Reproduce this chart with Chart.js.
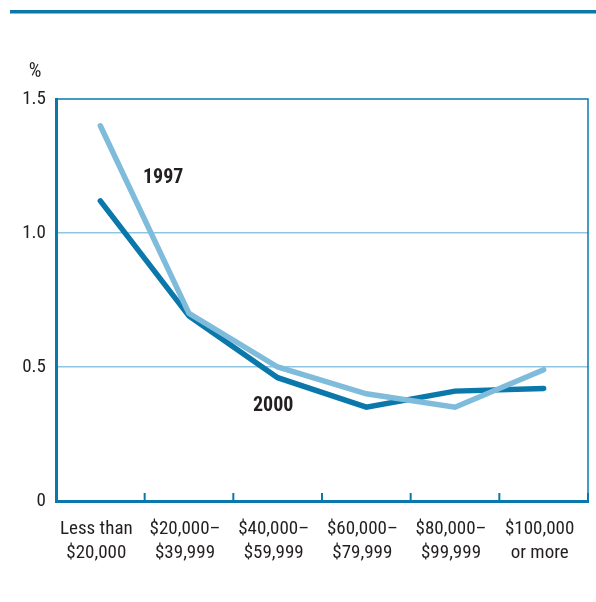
<!DOCTYPE html>
<html><head><meta charset="utf-8">
<script src="https://cdn.jsdelivr.net/npm/chart.js@4"></script>
<style>html,body{margin:0;padding:0;background:#fff}#wrap{width:596px;height:602px;position:relative}</style>
</head><body><div id="wrap"><canvas id="c"></canvas></div>
<script>
const categories = [["Less than","$20,000"],["$20,000–","$39,999"],["$40,000–","$59,999"],["$60,000–","$79,999"],["$80,000–","$99,999"],["$100,000","or more"]];
const series1997 = [1.40, 0.70, 0.50, 0.40, 0.35, 0.49];
const series2000 = [1.12, 0.69, 0.46, 0.35, 0.41, 0.42];
const yTicks = [0, 0.5, 1.0, 1.5];

const DARK = '#0a78aa', LIGHT = '#7fbcdb', GRID = '#8fc5e0', TEXT = '#231f20';
const FONT = '"Roboto Condensed","Liberation Sans",sans-serif';

const deco = {
  id: 'deco',
  beforeDatasetsDraw(chart) {
    const {ctx, chartArea: a, scales: {x}} = chart;
    ctx.save();
    ctx.strokeStyle = DARK;
    ctx.lineWidth = 1.5;
    ctx.beginPath();
    ctx.moveTo(a.left, a.top); ctx.lineTo(a.right, a.top); ctx.lineTo(a.right, a.bottom);
    ctx.stroke();
    ctx.lineWidth = 2;
    for (let i = 1; i <= categories.length; i++) {
      const px = i < categories.length ? (x.getPixelForTick(i-1) + x.getPixelForTick(i)) / 2 : a.right;
      ctx.beginPath(); ctx.moveTo(px, a.bottom); ctx.lineTo(px, a.bottom - 8); ctx.stroke();
    }
    ctx.restore();
  },
  afterDraw(chart) {
    const {ctx} = chart;
    ctx.save();
    ctx.fillStyle = DARK;
    ctx.fillRect(10, 10, 586, 3.5);
    ctx.fillStyle = TEXT;
    ctx.font = '20px ' + FONT;
    ctx.textAlign = 'center'; ctx.textBaseline = 'middle';
    ctx.fillText('%', 35, 72);
    ctx.font = 'bold 20px ' + FONT;
    ctx.textAlign = 'left';
    ctx.fillText('1997', 143, 178);
    ctx.fillText('2000', 253, 406);
    ctx.restore();
  }
};

new Chart(document.getElementById('c'), {
  type: 'line',
  data: {
    labels: categories,
    datasets: [
      {label: '1997', data: series1997, borderColor: LIGHT, borderWidth: 5.5, pointRadius: 0, borderCapStyle: 'round', borderJoinStyle: 'miter', tension: 0},
      {label: '2000', data: series2000, borderColor: DARK, borderWidth: 5.5, pointRadius: 0, borderCapStyle: 'round', borderJoinStyle: 'miter', tension: 0}
    ]
  },
  options: {
    responsive: true, maintainAspectRatio: false, animation: false,
    layout: {padding: {left: 0, right: 8, top: 99, bottom: 0}},
    plugins: {legend: {display: false}, tooltip: {enabled: false}},
    scales: {
      x: {
        offset: true,
        grid: {display: false, offset: true},
        border: {display: true, color: DARK, width: 3},
        ticks: {color: TEXT, font: {family: FONT, size: 19, lineHeight: 1.27}, padding: 8, labelOffset: -4, maxRotation: 0, autoSkip: false},
        afterFit(s) { s.height = 101; }
      },
      y: {
        min: 0, max: 1.5,
        afterBuildTicks(s) { s.ticks = yTicks.map(v => ({value: v})); },
        grid: {drawTicks: false, lineWidth: 1.5,
               color: c => (c.tick && (c.tick.value === 0 || c.tick.value === 1.5)) ? 'rgba(0,0,0,0)' : GRID},
        border: {display: true, color: DARK, width: 3},
        ticks: {color: TEXT, font: {family: FONT, size: 19}, padding: 10,
                callback: v => v === 0 ? '0' : v.toFixed(1)},
        afterFit(s) { s.width = 56; }
      }
    }
  },
  plugins: [deco]
});
</script></body></html>
